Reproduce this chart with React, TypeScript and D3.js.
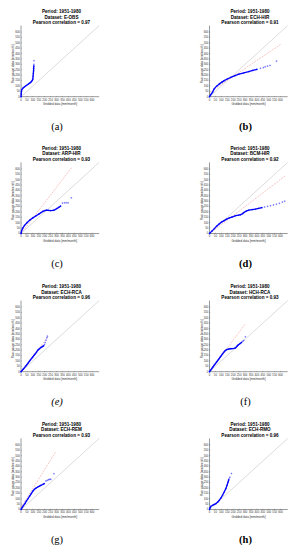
import React from "react";
import * as d3 from "d3";

const PERIOD = "Period: 1951-1980";
const DATASETS = ["E-OBS", "ECH-HIR", "ARP-HIR", "BCM-HIR", "ECH-RCA", "HCH-RCA", "ECH-REM", "ECH-RMO"];
const CORRELATIONS = ["0.97", "0.91", "0.93", "0.92", "0.96", "0.93", "0.93", "0.96"];
const PANEL_LABELS = ["(a)", "(b)", "(c)", "(d)", "(e)", "(f)", "(g)", "(h)"];
const TICKS = [0, 50, 100, 150, 200, 250, 300, 350, 400, 450, 500, 550, 600];
const AXIS_MAX = 660;
const X_TITLE = "Gridded data [mm/month]";
const Y_TITLE = "Rain gauge data [mm/month]";

type P = [number, number];

// dense quantile curves (gridded, gauge)
const curveA: P[] = [[0,0],[2,25],[4,50],[6,66],[15,78],[30,92],[45,104],[60,115],[73,126],[85,137],[95,150],[100,165],[102,190],[104,215],[106,240],[107,262],[108,285]];
const curveB: P[] = [[0,0],[10,18],[25,40],[41,75],[60,98],[83,119],[105,135],[124,149],[150,164],[180,179],[215,195],[249,209],[290,222],[331,233],[365,244],[400,254]];
const curveC: P[] = [[0,0],[5,25],[15,50],[30,75],[50,100],[75,125],[100,145],[125,163],[150,180],[170,195],[185,205],[200,212],[215,216],[230,215],[250,213],[270,215],[285,220],[300,230],[318,242],[334,254]];
const curveD: P[] = [[0,0],[20,22],[41,45],[60,68],[83,90],[100,105],[124,120],[145,133],[166,144],[190,153],[221,165],[245,170],[262,174],[280,185],[290,195],[310,208],[331,216],[360,222],[387,226],[415,233],[442,240]];
const curveE: P[] = [[0,0],[10,12],[20,25],[30,38],[40,52],[50,66],[60,80],[70,95],[80,110],[90,124],[100,138],[110,152],[120,166],[130,180],[142,200],[155,212],[169,225],[180,233],[191,240]];
const curveF: P[] = [[0,0],[10,15],[20,30],[30,45],[40,60],[50,75],[60,90],[70,105],[80,120],[90,135],[100,150],[110,165],[120,180],[132,195],[145,205],[160,210],[175,213],[190,214],[207,216],[220,222],[232,236],[242,248],[256,260],[270,272]];
const curveG: P[] = [[0,0],[10,18],[20,36],[33,55],[45,78],[60,102],[73,125],[87,148],[100,170],[114,188],[128,200],[142,209],[156,217],[169,225],[183,232],[196,240]];
const curveH: P[] = [[0,0],[5,15],[12,30],[28,40],[42,48],[55,55],[70,70],[83,86],[97,108],[110,132],[124,162],[138,194],[148,225],[157,255],[162,275]];

// sparse upper-tail quantiles
const tailA: P[] = [[109,300],[110,334]];
const tailB: P[] = [[430,264],[455,270],[470,278],[490,284],[511,290],[566,330]];
const tailC: P[] = [[350,282],[367,285],[382,285],[397,285],[425,331]];
const tailD: P[] = [[465,246],[490,252],[515,258],[540,265],[565,272],[590,280],[615,292],[635,300]];
const tailE: P[] = [[198,252],[204,270],[211,292],[218,315],[223,330]];
const tailF: P[] = [[280,282],[289,290],[303,324]];
const tailG: P[] = [[210,265],[222,270],[232,277],[242,279],[251,281],[278,332]];
const tailH: P[] = [[165,286],[172,300],[185,334]];

// quartile fit lines (dashed red)
const fitA: P[] = [];
const fitB: P[] = [[0,40],[600,485]];
const fitC: P[] = [[0,0],[430,615]];
const fitD: P[] = [[0,0],[640,535]];
const fitE: P[] = [[0,0],[225,320]];
const fitF: P[] = [[0,0],[300,440]];
const fitG: P[] = [[0,20],[290,530]];
const fitH: P[] = [];

const CURVES = [curveA, curveB, curveC, curveD, curveE, curveF, curveG, curveH];
const TAILS = [tailA, tailB, tailC, tailD, tailE, tailF, tailG, tailH];
const FITS = [fitA, fitB, fitC, fitD, fitE, fitF, fitG, fitH];

const ROW_T = [11.7, 148.5, 286.7, 424.5];
const COL_X = [21, 209.5];
const LABEL_WEIGHT = ["normal", "bold", "normal", "bold", "normal", "normal", "normal", "bold"];
const LABEL_STYLE = ["normal", "normal", "normal", "normal", "italic", "normal", "normal", "normal"];

const BLUE = "#0000ff";

function Panel({ i }: { i: number }) {
  const col = i % 2;
  const row = Math.floor(i / 2);
  const x0 = COL_X[col];
  const T = ROW_T[row];
  const y0 = T + 85;
  const x = d3.scaleLinear().domain([0, AXIS_MAX]).range([x0, x0 + 78.2]);
  const y = d3.scaleLinear().domain([0, AXIS_MAX]).range([y0, y0 - 71.1]);
  const line = d3.line<P>().x((d) => x(d[0])).y((d) => y(d[1]));
  const cx = x0 + 40.5;
  const plus = (d: P, k: number, s: number, w: number) => (
    <path key={k} d={`M${x(d[0]) - s},${y(d[1])}h${2 * s}M${x(d[0])},${y(d[1]) - s}v${2 * s}`} stroke={BLUE} strokeWidth={w} fill="none" />
  );
  return (
    <g>
      <g fontFamily="Liberation Sans, Arial, sans-serif" fontWeight="bold" fontSize={4.6} textAnchor="middle" fill="#000">
        <text x={cx} y={T + 1.6}>{PERIOD}</text>
        <text x={cx} y={T + 6.8}>{`Dataset: ${DATASETS[i]}`}</text>
        <text x={cx} y={T + 12.6}>{`Pearson correlation = ${CORRELATIONS[i]}`}</text>
      </g>
      {/* reference 1:1 line */}
      <line x1={x(0)} y1={y(0)} x2={x(AXIS_MAX)} y2={y(AXIS_MAX)} stroke="#b8b8b8" strokeWidth={0.5} />
      {FITS[i].length === 2 && (
        <path d={line(FITS[i]) || ""} stroke="#f08a8a" strokeWidth={0.5} strokeDasharray="2,1" fill="none" />
      )}
      {/* axes */}
      <line x1={x0} y1={y0} x2={x(AXIS_MAX)} y2={y0} stroke="#000" strokeWidth={0.4} />
      <line x1={x0} y1={y0} x2={x0} y2={y(AXIS_MAX)} stroke="#000" strokeWidth={0.4} />
      <g fontFamily="Liberation Sans, Arial, sans-serif" fontSize={2.8} fill="#333">
        {TICKS.map((t) => (
          <g key={`x${t}`}>
            <line x1={x(t)} y1={y0} x2={x(t)} y2={y0 - 0.8} stroke="#000" strokeWidth={0.25} />
            <text x={x(t)} y={y0 + 3.8} textAnchor="middle">{t}</text>
          </g>
        ))}
        {TICKS.map((t) => (
          <g key={`y${t}`}>
            <line x1={x0} y1={y(t)} x2={x0 + 0.8} y2={y(t)} stroke="#000" strokeWidth={0.25} />
            <text x={x0 - 1.2} y={y(t) + 0.9} textAnchor="end">{t}</text>
          </g>
        ))}
      </g>
      <text x={x0 + 39} y={y0 + 8} fontFamily="Liberation Sans, Arial, sans-serif" fontSize={3} textAnchor="middle" fill="#333">{X_TITLE}</text>
      <text transform={`translate(${x0 - 7},${y(305)}) rotate(-90)`} fontFamily="Liberation Sans, Arial, sans-serif" fontSize={3} textAnchor="middle" fill="#333">{Y_TITLE}</text>
      {/* quantiles */}
      <path d={line(CURVES[i]) || ""} stroke={BLUE} strokeWidth={1.3} fill="none" strokeLinejoin="round" strokeLinecap="round" />
      {CURVES[i].map((d, k) => plus(d, k, 0.9, 0.45))}
      {TAILS[i].map((d, k) => plus(d, k + 100, 0.9, 0.35))}
      <text x={x0 + 36} y={T + 118} fontFamily="Times New Roman, Liberation Serif, serif" fontSize={10.5} fontWeight={LABEL_WEIGHT[i]} fontStyle={LABEL_STYLE[i]} textAnchor="middle" fill="#000">{PANEL_LABELS[i]}</text>
    </g>
  );
}

export default function App() {
  return (
    <svg width={298} height={550} viewBox="0 0 298 550" style={{ position: "absolute", left: 0, top: 0, background: "#fff" }}>
      <rect width={298} height={550} fill="#fff" />
      {PANEL_LABELS.map((_, i) => (
        <Panel key={i} i={i} />
      ))}
    </svg>
  );
}
